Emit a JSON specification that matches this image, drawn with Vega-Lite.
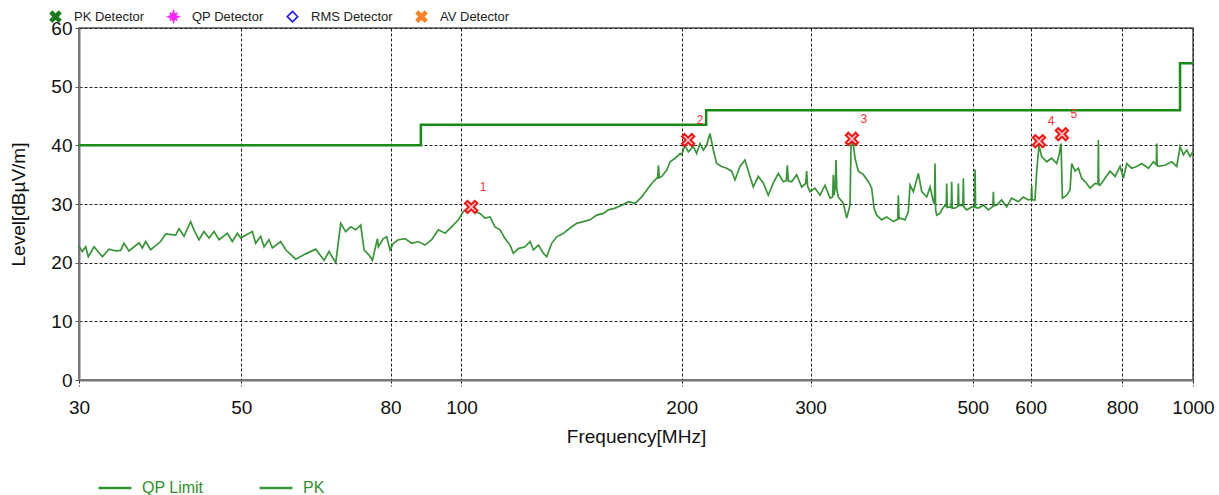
{
  "$schema": "https://vega.github.io/schema/vega-lite/v6.json",
  "width": 1114,
  "height": 352,
  "autosize": {"type": "none"},
  "padding": {"left": 79, "top": 28, "right": 26, "bottom": 115},
  "background": "white",
  "config": {
    "font": "Liberation Sans",
    "view": {"stroke": "#555", "strokeWidth": 1.5},
    "axis": {"labelFont": "Liberation Sans", "titleFont": "Liberation Sans", "labelColor": "#111", "titleColor": "#111", "titleFontWeight": "normal"},
    "legend": {"labelFont": "Liberation Sans"}
  },
  "datasets": {
    "limit": [
      {"freq": 30, "level": 40, "series": "QP Limit"},
      {"freq": 88, "level": 43.5, "series": "QP Limit"},
      {"freq": 216, "level": 46, "series": "QP Limit"},
      {"freq": 960, "level": 54, "series": "QP Limit"},
      {"freq": 1000, "level": 54, "series": "QP Limit"}
    ],
    "pk": [
      {"freq": 30.0, "level": 22.7},{"freq": 30.32, "level": 21.9},{"freq": 30.64, "level": 22.7},{"freq": 30.89, "level": 21.0},{"freq": 31.45, "level": 22.7},{"freq": 32.29, "level": 21.0},{"freq": 32.97, "level": 22.3},{"freq": 33.67, "level": 22.0},{"freq": 34.2, "level": 22.1},{"freq": 34.56, "level": 23.3},{"freq": 35.11, "level": 22.0},{"freq": 36.24, "level": 23.4},{"freq": 36.62, "level": 22.5},{"freq": 37.0, "level": 23.6},{"freq": 37.59, "level": 22.2},{"freq": 38.79, "level": 23.6},{"freq": 39.41, "level": 24.9},{"freq": 40.67, "level": 24.7},{"freq": 41.1, "level": 25.8},{"freq": 41.75, "level": 24.5},{"freq": 42.63, "level": 27.0},{"freq": 43.08, "level": 25.6},{"freq": 43.77, "level": 23.9},{"freq": 44.46, "level": 25.3},{"freq": 45.17, "level": 24.2},{"freq": 45.89, "level": 25.3},{"freq": 46.62, "level": 23.9},{"freq": 47.85, "level": 25.0},{"freq": 48.61, "level": 23.6},{"freq": 49.38, "level": 25.0},{"freq": 49.91, "level": 24.2},{"freq": 51.77, "level": 25.3},{"freq": 52.32, "level": 23.3},{"freq": 53.15, "level": 24.5},{"freq": 53.71, "level": 22.7},{"freq": 54.56, "level": 23.9},{"freq": 55.14, "level": 22.5},{"freq": 56.61, "level": 23.6},{"freq": 57.5, "level": 22.2},{"freq": 59.34, "level": 20.6},{"freq": 61.24, "level": 21.5},{"freq": 63.2, "level": 22.3},{"freq": 64.88, "level": 20.4},{"freq": 65.91, "level": 21.9},{"freq": 67.31, "level": 20.0},{"freq": 68.38, "level": 26.7},{"freq": 69.46, "level": 25.3},{"freq": 70.56, "level": 26.1},{"freq": 71.68, "level": 25.6},{"freq": 72.82, "level": 26.4},{"freq": 73.59, "level": 22.2},{"freq": 74.76, "level": 21.3},{"freq": 75.55, "level": 20.4},{"freq": 76.75, "level": 24.1},
      {"freq": 76.97, "level": 22.7},{"freq": 78.19, "level": 24.1},{"freq": 79.02, "level": 24.4},{"freq": 79.85, "level": 22.2},{"freq": 80.69, "level": 23.3},{"freq": 81.98, "level": 23.9},{"freq": 83.71, "level": 24.1},{"freq": 85.49, "level": 23.3},{"freq": 87.3, "level": 23.6},{"freq": 89.15, "level": 23.0},{"freq": 91.04, "level": 23.9},{"freq": 92.97, "level": 25.6},{"freq": 94.94, "level": 25.0},{"freq": 96.95, "level": 26.1},{"freq": 99.01, "level": 27.3},{"freq": 100.58, "level": 28.7},{"freq": 102.17, "level": 29.3},{"freq": 103.25, "level": 29.4},{"freq": 104.34, "level": 28.7},{"freq": 106.0, "level": 28.4},{"freq": 107.68, "level": 27.6},{"freq": 109.39, "level": 27.8},{"freq": 111.13, "level": 26.1},{"freq": 112.89, "level": 25.6},{"freq": 114.69, "level": 24.1},{"freq": 116.51, "level": 23.0},{"freq": 117.74, "level": 21.6},{"freq": 119.61, "level": 22.4},{"freq": 122.14, "level": 22.7},{"freq": 124.08, "level": 23.6},{"freq": 125.39, "level": 22.2},{"freq": 127.38, "level": 23.0},{"freq": 129.4, "level": 21.6},{"freq": 130.77, "level": 21.0},{"freq": 132.84, "level": 23.3},{"freq": 134.95, "level": 24.4},{"freq": 137.81, "level": 25.0},{"freq": 140.74, "level": 25.9},{"freq": 143.72, "level": 26.7},{"freq": 146.77, "level": 27.0},{"freq": 149.88, "level": 27.3},{"freq": 153.06, "level": 28.1},{"freq": 156.31, "level": 28.4},{"freq": 158.79, "level": 29.0},{"freq": 162.16, "level": 29.3},{"freq": 165.6, "level": 29.8},{"freq": 169.11, "level": 30.4},{"freq": 172.7, "level": 30.1},{"freq": 176.36, "level": 31.2},{"freq": 179.16, "level": 32.4},{"freq": 182.0, "level": 33.5},{"freq": 184.9, "level": 34.4},{"freq": 185.4, "level": 34.4},{"freq": 185.87, "level": 36.6},{"freq": 186.4, "level": 34.5},{"freq": 187.83, "level": 34.7},{"freq": 190.81, "level": 35.8},{"freq": 192.82, "level": 37.2},{"freq": 195.89, "level": 37.8},{"freq": 199.0, "level": 38.6},
      {"freq": 199.98, "level": 38.4},{"freq": 202.09, "level": 40.0},{"freq": 204.22, "level": 38.9},{"freq": 207.45, "level": 39.8},{"freq": 209.64, "level": 38.6},{"freq": 211.86, "level": 40.3},{"freq": 214.1, "level": 39.2},{"freq": 216.35, "level": 40.0},{"freq": 218.63, "level": 42.0},{"freq": 220.94, "level": 39.2},{"freq": 223.27, "level": 36.9},{"freq": 226.81, "level": 36.4},{"freq": 230.4, "level": 36.1},{"freq": 234.06, "level": 35.6},{"freq": 236.52, "level": 34.1},{"freq": 240.28, "level": 36.4},{"freq": 244.08, "level": 37.5},{"freq": 247.95, "level": 34.7},{"freq": 250.56, "level": 32.9},{"freq": 254.54, "level": 34.7},{"freq": 258.57, "level": 33.6},{"freq": 262.68, "level": 31.5},{"freq": 266.85, "level": 33.6},{"freq": 271.08, "level": 35.2},{"freq": 275.39, "level": 33.8},{"freq": 278.0, "level": 34.0},{"freq": 278.87, "level": 36.6},{"freq": 279.8, "level": 33.9},{"freq": 282.71, "level": 33.8},{"freq": 287.2, "level": 35.0},{"freq": 291.76, "level": 32.9},{"freq": 295.5, "level": 33.5},{"freq": 296.39, "level": 35.6},{"freq": 297.3, "level": 33.0},{"freq": 299.52, "level": 32.1},{"freq": 304.28, "level": 32.7},{"freq": 309.11, "level": 31.5},{"freq": 314.01, "level": 33.2},{"freq": 318.99, "level": 31.0},{"freq": 321.6, "level": 31.2},{"freq": 322.36, "level": 35.0},{"freq": 323.1, "level": 31.5},{"freq": 324.3, "level": 32.8},{"freq": 325.07, "level": 37.5},{"freq": 325.9, "level": 32.5},{"freq": 327.47, "level": 31.2},{"freq": 332.67, "level": 30.1},{"freq": 336.18, "level": 27.6},{"freq": 339.73, "level": 29.8},{"freq": 340.8, "level": 39.8},{"freq": 342.59, "level": 41.0},{"freq": 345.12, "level": 37.8},{"freq": 348.76, "level": 35.6},{"freq": 354.3, "level": 35.0},{"freq": 359.92, "level": 33.8},{"freq": 363.72, "level": 32.7},{"freq": 366.4, "level": 29.3},{"freq": 369.48, "level": 28.1},{"freq": 375.35, "level": 27.3},{"freq": 381.3, "level": 27.8},{"freq": 389.4, "level": 27.0},{"freq": 394.8, "level": 27.4},{"freq": 395.57, "level": 31.5},{"freq": 396.4, "level": 27.5},{"freq": 397.65, "level": 27.6},{"freq": 403.96, "level": 27.3},{"freq": 408.22, "level": 28.7},{"freq": 410.37, "level": 33.2},{"freq": 414.71, "level": 32.1},{"freq": 421.29, "level": 35.2},{"freq": 425.73, "level": 32.1},{"freq": 432.49, "level": 31.2},{"freq": 437.04, "level": 32.9},{"freq": 441.66, "level": 30.4},{"freq": 443.2, "level": 30.0},{"freq": 443.97, "level": 36.9},{"freq": 444.8, "level": 29.0},{"freq": 446.31, "level": 28.1},{"freq": 451.03, "level": 28.4},
      {"freq": 453.39, "level": 29.0},{"freq": 458.16, "level": 29.8},{"freq": 459.8, "level": 29.6},{"freq": 460.57, "level": 33.5},{"freq": 461.4, "level": 29.4},{"freq": 465.43, "level": 29.5},{"freq": 467.1, "level": 29.4},{"freq": 467.88, "level": 33.8},{"freq": 468.7, "level": 29.3},{"freq": 472.82, "level": 29.3},{"freq": 477.0, "level": 29.6},{"freq": 477.81, "level": 33.5},{"freq": 478.6, "level": 29.7},{"freq": 482.84, "level": 29.8},{"freq": 484.6, "level": 29.7},{"freq": 485.39, "level": 34.4},{"freq": 486.2, "level": 29.5},{"freq": 490.51, "level": 29.0},{"freq": 498.28, "level": 29.5},{"freq": 502.7, "level": 29.5},{"freq": 503.53, "level": 35.9},{"freq": 504.4, "level": 29.4},{"freq": 508.84, "level": 29.3},{"freq": 516.9, "level": 29.8},{"freq": 525.11, "level": 29.0},{"freq": 532.6, "level": 29.6},{"freq": 533.45, "level": 32.1},{"freq": 534.3, "level": 29.7},{"freq": 539.05, "level": 29.8},{"freq": 547.6, "level": 30.7},{"freq": 556.28, "level": 29.5},{"freq": 565.09, "level": 31.0},{"freq": 577.07, "level": 30.4},{"freq": 586.24, "level": 31.2},{"freq": 595.54, "level": 30.7},{"freq": 601.0, "level": 30.8},{"freq": 601.82, "level": 33.2},{"freq": 602.6, "level": 30.7},{"freq": 608.17, "level": 30.7},{"freq": 611.37, "level": 35.6},{"freq": 615.89, "level": 40.0},{"freq": 621.07, "level": 38.1},{"freq": 630.94, "level": 37.2},{"freq": 640.96, "level": 37.8},{"freq": 651.14, "level": 36.9},{"freq": 655.95, "level": 38.4},{"freq": 660.1, "level": 40.3},{"freq": 662.87, "level": 31.0},{"freq": 671.97, "level": 31.5},{"freq": 679.07, "level": 32.4},{"freq": 682.65, "level": 36.9},{"freq": 689.85, "level": 35.6},{"freq": 697.14, "level": 36.1},{"freq": 704.47, "level": 34.4},{"freq": 715.66, "level": 33.5},{"freq": 723.21, "level": 32.7},{"freq": 734.69, "level": 33.5},{"freq": 741.5, "level": 33.4},{"freq": 742.44, "level": 40.9},{"freq": 743.4, "level": 33.3},{"freq": 746.36, "level": 33.2},{"freq": 758.2, "level": 34.4},{"freq": 770.24, "level": 35.6},{"freq": 782.47, "level": 34.7},{"freq": 794.89, "level": 36.4},{"freq": 803.27, "level": 34.4},{"freq": 811.75, "level": 36.9},{"freq": 824.6, "level": 36.1},{"freq": 837.71, "level": 36.4},{"freq": 850.99, "level": 36.9},{"freq": 869.05, "level": 36.1},{"freq": 882.83, "level": 37.2},{"freq": 891.0, "level": 36.7},{"freq": 892.15, "level": 40.3},{"freq": 893.3, "level": 36.6},{"freq": 896.84, "level": 36.4},{"freq": 915.86, "level": 36.6},{"freq": 935.31, "level": 37.2},{"freq": 950.14, "level": 36.4},{"freq": 960.16, "level": 39.8},{"freq": 970.3, "level": 38.4},{"freq": 980.52, "level": 39.2},{"freq": 990.85, "level": 38.1},{"freq": 1000, "level": 38.9}
    ],
    "peaks": [
      {"freq": 103.1, "level": 29.5, "no": "1"},
      {"freq": 204.1, "level": 40.9, "no": "2"},
      {"freq": 341.8, "level": 41.1, "no": "3"},
      {"freq": 615.9, "level": 40.7, "no": "4"},
      {"freq": 662.0, "level": 41.9, "no": "5"}
    ],
    "detectors": [
      {"detector": "PK Detector"},
      {"detector": "QP Detector"},
      {"detector": "RMS Detector"},
      {"detector": "AV Detector"}
    ]
  },
  "encoding": {
    "x": {
      "field": "freq", "type": "quantitative",
      "scale": {"type": "log", "domain": [30, 1000], "nice": false},
      "axis": {
        "values": [30, 50, 80, 100, 200, 300, 500, 600, 800, 1000],
        "format": "d",
        "title": "Frequency[MHz]",
        "labelFontSize": 19, "titleFontSize": 19,
        "labelFlush": false, "labelPadding": 12, "titlePadding": 10,
        "grid": true, "gridColor": "#222", "gridDash": [3, 2], "gridWidth": 1,
        "tickSize": 6, "tickColor": "#222", "tickDash": [3, 2],
        "domainColor": "#777", "domainWidth": 2
      }
    },
    "y": {
      "field": "level", "type": "quantitative",
      "scale": {"domain": [0, 60], "nice": false},
      "axis": {
        "values": [0, 10, 20, 30, 40, 50, 60],
        "title": "Level[dBµV/m]",
        "labelFontSize": 19, "titleFontSize": 19,
        "labelPadding": 3, "titlePadding": 22,
        "grid": true, "gridColor": "#222", "gridDash": [3, 2], "gridWidth": 1,
        "tickSize": 4, "tickColor": "#555",
        "domainColor": "#777", "domainWidth": 2
      }
    }
  },
  "layer": [
    {
      "data": {"name": "detectors"},
      "mark": {"type": "point", "opacity": 0, "filled": true},
      "encoding": {
        "x": null, "y": null,
        "shape": {
          "field": "detector", "type": "nominal",
          "scale": {
            "domain": ["PK Detector", "QP Detector", "RMS Detector", "AV Detector"],
            "range": [
              "M-1,-0.6L-0.6,-1L0,-0.4L0.6,-1L1,-0.6L0.4,0L1,0.6L0.6,1L0,0.4L-0.6,1L-1,0.6L-0.4,0Z",
              "M0,-1L0.2,-0.35L0.7,-0.7L0.35,-0.2L1,0L0.35,0.2L0.7,0.7L0.2,0.35L0,1L-0.2,0.35L-0.7,0.7L-0.35,0.2L-1,0L-0.35,-0.2L-0.7,-0.7L-0.2,-0.35Z",
              "diamond",
              "M-1,-0.6L-0.6,-1L0,-0.4L0.6,-1L1,-0.6L0.4,0L1,0.6L0.6,1L0,0.4L-0.6,1L-1,0.6L-0.4,0Z"
            ]
          },
          "legend": {"orient": "none", "direction": "horizontal", "legendX": -30, "legendY": -18, "title": null, "labelFontSize": 13, "labelColor": "#222", "symbolSize": 110, "labelOffset": 12, "columnPadding": 20, "symbolOpacity": 1, "symbolStrokeWidth": 1.5}
        },
        "fill": {
          "field": "detector", "type": "nominal",
          "scale": {"domain": ["PK Detector", "QP Detector", "RMS Detector", "AV Detector"], "range": ["#1a7a1a", "#ff22ff", "#ffffff", "#ff8020"]},
          "legend": {"orient": "none", "direction": "horizontal", "legendX": -30, "legendY": -18, "title": null, "labelFontSize": 13, "labelColor": "#222", "symbolSize": 110, "labelOffset": 12, "columnPadding": 20, "symbolOpacity": 1, "symbolStrokeWidth": 1.5}
        },
        "stroke": {
          "field": "detector", "type": "nominal",
          "scale": {"domain": ["PK Detector", "QP Detector", "RMS Detector", "AV Detector"], "range": ["#1a7a1a", "#ff22ff", "#1a1aff", "#ff8020"]},
          "legend": {"orient": "none", "direction": "horizontal", "legendX": -30, "legendY": -18, "title": null, "labelFontSize": 13, "labelColor": "#222", "symbolSize": 110, "labelOffset": 12, "columnPadding": 20, "symbolOpacity": 1, "symbolStrokeWidth": 1.5}
        }
      }
    },
    {
      "data": {"name": "limit"},
      "mark": {"type": "line", "interpolate": "step-after", "strokeWidth": 2.5},
      "encoding": {
        "color": {
          "field": "series", "type": "nominal",
          "scale": {"domain": ["QP Limit", "PK"], "range": ["#178a17", "#228b22"]},
          "legend": {"orient": "none", "direction": "horizontal", "legendX": 18, "legendY": 442, "title": null, "labelFontSize": 16, "labelColor": "#2f8f2f", "symbolType": "stroke", "symbolSize": 1089, "symbolStrokeWidth": 2.5, "labelOffset": 9, "columnPadding": 50}
        }
      }
    },
    {
      "data": {"name": "pk"},
      "transform": [{"calculate": "'PK'", "as": "series"}],
      "mark": {"type": "line", "strokeWidth": 1.7, "opacity": 0.9},
      "encoding": {
        "color": {"field": "series", "type": "nominal"}
      }
    },
    {
      "data": {"name": "peaks"},
      "mark": {
        "type": "point",
        "shape": "M-1,-0.6L-0.6,-1L0,-0.4L0.6,-1L1,-0.6L0.4,0L1,0.6L0.6,1L0,0.4L-0.6,1L-1,0.6L-0.4,0Z",
        "size": 150, "fill": "#ffd5d5", "stroke": "#ff1010", "strokeWidth": 2, "opacity": 1, "filled": true
      },
      "encoding": {}
    },
    {
      "data": {"name": "peaks"},
      "mark": {"type": "text", "dx": 12, "dy": -20, "fontSize": 12, "color": "#ff3030", "font": "Liberation Sans"},
      "encoding": {"text": {"field": "no"}}
    }
  ]
}
